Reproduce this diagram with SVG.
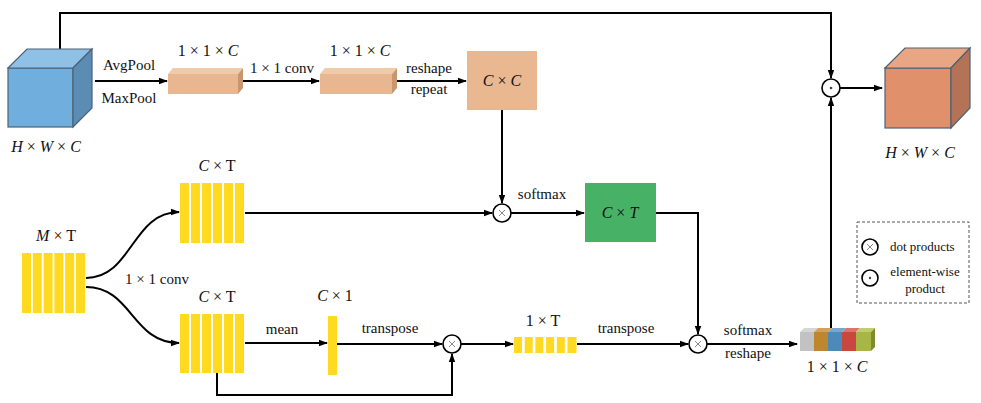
<svg xmlns="http://www.w3.org/2000/svg" width="981" height="403" viewBox="0 0 981 403">
<defs>
<marker id="ah" markerWidth="9" markerHeight="8" refX="8" refY="4" orient="auto" markerUnits="userSpaceOnUse"><path d="M0,0.8 L9,4 L0,7.2 z" fill="#000"/></marker>
</defs>
<style>
.t{font-family:"Liberation Serif","Times New Roman",serif;font-size:15px;fill:#111;text-anchor:middle}
.m{font-family:"Liberation Serif","Times New Roman",serif;font-size:16px;fill:#111;text-anchor:middle}
.i{font-style:italic}
.c{fill:none;stroke:#000;stroke-width:2}
.ca{fill:none;stroke:#000;stroke-width:2;marker-end:url(#ah)}
.y{fill:#FFDA1E}
.op{fill:#fff;stroke:#000;stroke-width:1.6}
.x{stroke:#888;stroke-width:1}
.edge{stroke:#4d6275;stroke-width:1.2}
</style>
<rect width="981" height="403" fill="#fff"/>

<g id="connectors">
<path class="ca" d="M60,49 V13 H831 V78"/>
<path class="ca" d="M95,81 H167"/>
<path class="ca" d="M243,81 H319"/>
<path class="ca" d="M397,81 H466"/>
<path class="ca" d="M502,110 V203"/>
<path class="ca" d="M245,213 H492"/>
<path class="ca" d="M511,213 H584"/>
<path class="ca" d="M656,213 H698 V334"/>
<path class="ca" d="M86,278 C132,278 132,212 179,212"/>
<path class="ca" d="M86,287 C132,287 132,343 179,343"/>
<path class="ca" d="M245,343 H327"/>
<path class="ca" d="M337,344 H442"/>
<path class="ca" d="M217,373 V395 H452 V354"/>
<path class="ca" d="M461,344 H513"/>
<path class="ca" d="M577,344 H688"/>
<path class="ca" d="M707,344 H797"/>
<path class="ca" d="M831,328 V98"/>
<path class="ca" d="M840,88 H882"/>
</g>

<g id="input-cube">
<rect x="8" y="68" width="65" height="59" fill="#6FAEDD" class="edge"/>
<polygon points="8,68 27,49 92,49 73,68" fill="#8FC0E5" class="edge"/>
<polygon points="73,68 92,49 92,108 73,127" fill="#5A8CB4" class="edge"/>
<text class="m" x="46" y="152"><tspan class="i">H</tspan> × <tspan class="i">W</tspan> × <tspan class="i">C</tspan></text>
</g>

<g id="pool-labels">
<text class="t" x="129" y="70">AvgPool</text>
<text class="t" x="129" y="103">MaxPool</text>
</g>

<g id="vec1">
<rect x="168" y="74" width="70" height="20" fill="#E8B690"/>
<polygon points="168,74 173,68 243,68 238,74" fill="#F0CBAA"/>
<polygon points="238,74 243,68 243,88 238,94" fill="#C89772"/>
<text class="m" x="208" y="56">1 × 1 × <tspan class="i">C</tspan></text>
</g>

<text class="t" x="282" y="73">1 × 1 conv</text>

<g id="vec2">
<rect x="320" y="74" width="72" height="20" fill="#E8B690"/>
<polygon points="320,74 325,68 397,68 392,74" fill="#F0CBAA"/>
<polygon points="392,74 397,68 397,88 392,94" fill="#C89772"/>
<text class="m" x="360" y="56">1 × 1 × <tspan class="i">C</tspan></text>
</g>

<g id="reshape-labels">
<text class="t" x="429" y="73">reshape</text>
<text class="t" x="429" y="94">repeat</text>
</g>

<g id="cxc">
<rect x="467" y="51" width="70" height="59" fill="#E9B891"/>
<text class="m" x="502" y="86"><tspan class="i">C</tspan> × <tspan class="i">C</tspan></text>
</g>

<g id="mxt">
<rect class="y" x="22" y="253" width="9" height="60"/>
<rect class="y" x="32.8" y="253" width="9" height="60"/>
<rect class="y" x="43.6" y="253" width="9" height="60"/>
<rect class="y" x="54.4" y="253" width="9" height="60"/>
<rect class="y" x="65.2" y="253" width="9" height="60"/>
<rect class="y" x="76" y="253" width="9" height="60"/>
<text class="m" x="56" y="241"><tspan class="i">M</tspan> × T</text>
</g>

<text class="t" x="157" y="284">1 × 1 conv</text>

<g id="cxt-top">
<rect class="y" x="180" y="183" width="9" height="60"/>
<rect class="y" x="191" y="183" width="9" height="60"/>
<rect class="y" x="202" y="183" width="9" height="60"/>
<rect class="y" x="213" y="183" width="9" height="60"/>
<rect class="y" x="224" y="183" width="9" height="60"/>
<rect class="y" x="235" y="183" width="9" height="60"/>
<text class="m" x="217" y="171"><tspan class="i">C</tspan> × T</text>
</g>

<g id="cxt-bottom">
<rect class="y" x="180" y="314" width="9" height="59"/>
<rect class="y" x="191" y="314" width="9" height="59"/>
<rect class="y" x="202" y="314" width="9" height="59"/>
<rect class="y" x="213" y="314" width="9" height="59"/>
<rect class="y" x="224" y="314" width="9" height="59"/>
<rect class="y" x="235" y="314" width="9" height="59"/>
<text class="m" x="217" y="302"><tspan class="i">C</tspan> × T</text>
</g>

<text class="t" x="282" y="334">mean</text>

<g id="cx1">
<rect class="y" x="328" y="316" width="9" height="59"/>
<text class="m" x="335" y="301"><tspan class="i">C</tspan> × 1</text>
</g>

<text class="t" x="390" y="333">transpose</text>

<g id="dot1">
<circle class="op" cx="502" cy="213" r="9"/>
<path class="x" d="M499,210 L505,216 M505,210 L499,216"/>
</g>

<text class="t" x="542" y="199">softmax</text>

<g id="cxt-green">
<rect x="585" y="183" width="71" height="59" fill="#47B266"/>
<text class="m" x="620" y="218"><tspan class="i">C</tspan> × <tspan class="i">T</tspan></text>
</g>

<g id="dot2">
<circle class="op" cx="452" cy="344" r="9"/>
<path class="x" d="M449,341 L455,347 M455,341 L449,347"/>
</g>

<g id="onext">
<rect class="y" x="514" y="337" width="8" height="16"/>
<rect class="y" x="524.7" y="337" width="8" height="16"/>
<rect class="y" x="535.4" y="337" width="8" height="16"/>
<rect class="y" x="546.1" y="337" width="8" height="16"/>
<rect class="y" x="556.8" y="337" width="8" height="16"/>
<rect class="y" x="567.5" y="337" width="9" height="16"/>
<text class="m" x="543" y="326">1 × T</text>
</g>

<text class="t" x="626" y="333">transpose</text>

<g id="dot3">
<circle class="op" cx="698" cy="344" r="9"/>
<path class="x" d="M695,341 L701,347 M701,341 L695,347"/>
</g>

<g id="softmax-labels">
<text class="t" x="748" y="335">softmax</text>
<text class="t" x="748" y="358">reshape</text>
</g>

<g id="color-vec">
<polygon points="800,332 804,328 818,328 814,332" fill="#D6D6D6"/>
<polygon points="814,332 818,328 832,328 828,332" fill="#D4A05A"/>
<polygon points="828,332 832,328 846,328 842,332" fill="#76A8CF"/>
<polygon points="842,332 846,328 860,328 856,332" fill="#DB746A"/>
<polygon points="856,332 860,328 875,328 871,332" fill="#C0CC6E"/>
<rect x="800" y="332" width="14" height="19" fill="#C2C2C2"/>
<rect x="814" y="332" width="14" height="19" fill="#C0852F"/>
<rect x="828" y="332" width="14" height="19" fill="#4C8BB9"/>
<rect x="842" y="332" width="14" height="19" fill="#C9473E"/>
<rect x="856" y="332" width="15" height="19" fill="#A7B645"/>
<polygon points="871,332 875,328 875,347 871,351" fill="#7F8C2E"/>
<text class="m" x="837" y="372">1 × 1 × <tspan class="i">C</tspan></text>
</g>

<g id="eltwise">
<circle class="op" cx="831" cy="88" r="9"/>
<circle cx="831" cy="88" r="1.3" fill="#444"/>
</g>

<g id="output-cube">
<rect x="885" y="68" width="66" height="60" fill="#E0906B" class="edge"/>
<polygon points="885,68 905,48 970,48 951,68" fill="#E8A685" class="edge"/>
<polygon points="951,68 970,48 970,108 951,128" fill="#B47356" class="edge"/>
<text class="m" x="920" y="158"><tspan class="i">H</tspan> × <tspan class="i">W</tspan> × <tspan class="i">C</tspan></text>
</g>

<g id="legend">
<rect x="857" y="222" width="112" height="81" fill="none" stroke="#555" stroke-width="1" stroke-dasharray="3,2"/>
<circle class="op" cx="870" cy="247" r="8" stroke-width="1.3"/>
<path class="x" d="M867,244 L873,250 M873,244 L867,250"/>
<text class="t" x="890" y="251" style="text-anchor:start;font-size:13px">dot products</text>
<circle class="op" cx="870" cy="278" r="8" stroke-width="1.3"/>
<circle cx="870" cy="278" r="1.2" fill="#444"/>
<text class="t" x="925" y="276" style="font-size:13px">element-wise</text>
<text class="t" x="925" y="293" style="font-size:13px">product</text>
</g>
</svg>
